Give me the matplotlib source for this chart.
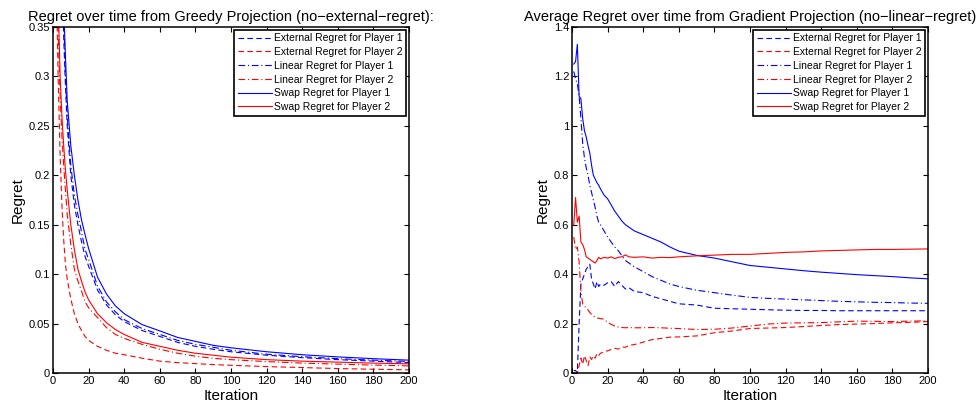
import matplotlib
matplotlib.use("Agg")
import matplotlib.pyplot as plt

plt.rcParams['font.family'] = ['Liberation Sans', 'DejaVu Sans']

# ---------------- Left chart: Greedy Projection ----------------
iter_left = [1, 2, 3, 4, 5, 6, 7, 8, 10, 12, 14, 16, 18, 20, 25, 30, 35, 40,
             50, 60, 70, 80, 90, 100, 120, 140, 160, 180, 200]
ext_p1_left = [2.2, 1.1, 0.74, 0.55, 0.42, 0.34, 0.29, 0.25, 0.2, 0.17, 0.15, 0.133,
               0.118, 0.108, 0.084, 0.069, 0.059, 0.052, 0.043, 0.037, 0.031, 0.027,
               0.024, 0.0215, 0.018, 0.0155, 0.0135, 0.012, 0.0105]
ext_p2_left = [0.5, 0.38, 0.29, 0.22, 0.17, 0.135, 0.11, 0.095, 0.075, 0.06, 0.05,
               0.043, 0.037, 0.033, 0.027, 0.023, 0.02, 0.0185, 0.015, 0.012, 0.0105,
               0.0095, 0.0085, 0.0078, 0.0065, 0.0055, 0.0045, 0.0038, 0.0032]
lin_p1_left = [2.3, 1.15, 0.77, 0.58, 0.45, 0.36, 0.3, 0.26, 0.21, 0.18, 0.16, 0.143,
               0.125, 0.115, 0.088, 0.072, 0.062, 0.054, 0.045, 0.039, 0.033, 0.029,
               0.026, 0.023, 0.019, 0.0165, 0.0145, 0.013, 0.0117]
lin_p2_left = [0.9, 0.45, 0.34, 0.28, 0.24, 0.21, 0.185, 0.16, 0.13, 0.105, 0.093,
               0.083, 0.072, 0.066, 0.056, 0.046, 0.039, 0.035, 0.029, 0.024, 0.02,
               0.017, 0.0148, 0.0135, 0.0115, 0.01, 0.009, 0.008, 0.0072]
swap_p1_left = [2.5, 1.25, 0.85, 0.63, 0.5, 0.37, 0.32, 0.275, 0.23, 0.2, 0.175,
                0.155, 0.14, 0.126, 0.097, 0.08, 0.068, 0.06, 0.049, 0.0426, 0.036,
                0.032, 0.028, 0.0255, 0.0215, 0.0185, 0.0163, 0.0145, 0.013]
swap_p2_left = [1.0, 0.5, 0.37, 0.3, 0.26, 0.23, 0.205, 0.185, 0.15, 0.125, 0.105,
                0.093, 0.082, 0.074, 0.06, 0.051, 0.044, 0.039, 0.031, 0.027, 0.023,
                0.02, 0.018, 0.016, 0.0135, 0.012, 0.011, 0.01, 0.0093]

# ---------------- Right chart: Gradient Projection ----------------
iter_right = [1, 2, 3, 4, 5, 6, 7, 8, 9, 10, 11, 12, 13, 14, 15, 16, 18, 20, 22,
              24, 26, 28, 30, 32, 35, 40, 45, 50, 55, 60, 70, 80, 90, 100, 110,
              120, 130, 140, 150, 160, 170, 180, 190, 200]
ext_p1_right = [0.01, 0.01, 0.0, 0.2, 0.36, 0.38, 0.4, 0.42, 0.43, 0.44, 0.38, 0.36,
                0.34, 0.37, 0.35, 0.36, 0.355, 0.365, 0.37, 0.35, 0.37, 0.355, 0.34,
                0.345, 0.33, 0.325, 0.31, 0.3, 0.29, 0.28, 0.275, 0.262, 0.26, 0.258,
                0.256, 0.254, 0.253, 0.253, 0.252, 0.252, 0.252, 0.252, 0.252, 0.252]
ext_p2_right = [0.0, 0.0, 0.0, 0.03, 0.06, 0.035, 0.07, 0.05, 0.03, 0.065, 0.055,
                0.07, 0.06, 0.078, 0.07, 0.08, 0.085, 0.09, 0.095, 0.1, 0.097, 0.105,
                0.104, 0.112, 0.115, 0.125, 0.135, 0.14, 0.145, 0.146, 0.15, 0.163,
                0.17, 0.18, 0.182, 0.184, 0.188, 0.192, 0.196, 0.198, 0.2, 0.203,
                0.205, 0.208]
lin_p1_right = [1.22, 1.19, 1.17, 1.12, 1.03, 0.93, 0.87, 0.83, 0.8, 0.76, 0.73,
                0.7, 0.67, 0.635, 0.61, 0.6, 0.575, 0.55, 0.53, 0.51, 0.495, 0.475,
                0.455, 0.445, 0.43, 0.41, 0.39, 0.375, 0.36, 0.35, 0.335, 0.325,
                0.315, 0.306, 0.302, 0.299, 0.296, 0.293, 0.29, 0.288, 0.286, 0.285,
                0.283, 0.282]
lin_p2_right = [0.55, 0.5, 0.51, 0.45, 0.33, 0.28, 0.27, 0.265, 0.255, 0.245, 0.237,
                0.23, 0.226, 0.222, 0.222, 0.22, 0.218, 0.205, 0.197, 0.19, 0.186,
                0.184, 0.183, 0.184, 0.183, 0.183, 0.184, 0.183, 0.181, 0.18, 0.176,
                0.177, 0.182, 0.19, 0.198, 0.202, 0.203, 0.204, 0.207, 0.21, 0.209,
                0.208, 0.21, 0.211]
swap_p1_right = [1.25, 1.26, 1.33, 1.12, 1.11, 1.03, 0.98, 0.955, 0.92, 0.89, 0.84,
                 0.8, 0.785, 0.77, 0.76, 0.745, 0.72, 0.705, 0.68, 0.655, 0.635,
                 0.615, 0.6, 0.59, 0.575, 0.56, 0.545, 0.53, 0.51, 0.493, 0.476,
                 0.465, 0.45, 0.435, 0.428, 0.421, 0.414, 0.408, 0.403, 0.398, 0.394,
                 0.39, 0.385, 0.381]
swap_p2_right = [0.6, 0.71, 0.61, 0.635, 0.53, 0.52, 0.5, 0.47, 0.465, 0.46, 0.455,
                 0.45, 0.445, 0.455, 0.468, 0.462, 0.468, 0.465, 0.47, 0.463, 0.468,
                 0.47, 0.478, 0.47, 0.468, 0.47, 0.465, 0.468, 0.467, 0.47, 0.474,
                 0.477, 0.48, 0.48, 0.484, 0.488, 0.49, 0.494, 0.496, 0.498, 0.5, 0.5,
                 0.501, 0.502]

labels = ["External Regret for Player 1", "External Regret for Player 2",
          "Linear Regret for Player 1", "Linear Regret for Player 2",
          "Swap Regret for Player 1", "Swap Regret for Player 2"]

BLUE = "#0000ff"
RED = "#ff0000"
DASH = (0, (5, 3))
DASHDOT = (0, (6, 2.5, 1, 2.5))
styles = [(BLUE, DASH), (RED, DASH), (BLUE, DASHDOT), (RED, DASHDOT),
          (BLUE, "-"), (RED, "-")]

fig = plt.figure(figsize=(9.78, 4.07), dpi=100)
ax1 = fig.add_axes([53 / 978, 34 / 407, 356 / 978, 346 / 407])
ax2 = fig.add_axes([572 / 978, 34 / 407, 356 / 978, 346 / 407])


def draw(ax, x, series, ylim, yticks, yticklabels, title):
    for (c, ls), s, lab in zip(styles, series, labels):
        ax.plot(x, s, color=c, linestyle=ls, linewidth=0.8, label=lab)
    ax.set_xlim(0, 200)
    ax.set_ylim(*ylim)
    ax.set_xticks(range(0, 201, 20))
    ax.set_yticks(yticks)
    ax.set_yticklabels(yticklabels)
    ax.tick_params(direction="in", top=True, right=True, labelsize=8,
                   length=3.5, width=0.8, pad=2)
    for sp in ax.spines.values():
        sp.set_linewidth(1.1)
    ax.set_xlabel("Iteration", fontsize=11, labelpad=2.5)
    ax.set_ylabel("Regret", fontsize=11, labelpad=3)
    ax.set_title(title, fontsize=10.5, pad=4)
    leg = ax.legend(loc="upper right", fontsize=7.5, frameon=True, fancybox=False,
                    borderpad=0.35, labelspacing=0.36, handlelength=3.3,
                    handletextpad=0.2, borderaxespad=0.25)
    leg.get_frame().set_edgecolor("black")
    leg.get_frame().set_linewidth(1.2)
    leg.get_frame().set_alpha(1)


draw(ax1, iter_left,
     [ext_p1_left, ext_p2_left, lin_p1_left, lin_p2_left, swap_p1_left, swap_p2_left],
     (0, 0.35), [0, 0.05, 0.1, 0.15, 0.2, 0.25, 0.3, 0.35],
     ["0", "0.05", "0.1", "0.15", "0.2", "0.25", "0.3", "0.35"],
     "Regret over time from Greedy Projection (no\u2212external\u2212regret):")
draw(ax2, iter_right,
     [ext_p1_right, ext_p2_right, lin_p1_right, lin_p2_right, swap_p1_right, swap_p2_right],
     (0, 1.4), [0, 0.2, 0.4, 0.6, 0.8, 1.0, 1.2, 1.4],
     ["0", "0.2", "0.4", "0.6", "0.8", "1", "1.2", "1.4"],
     "Average Regret over time from Gradient Projection (no\u2212linear\u2212regret)")

fig.savefig("out.png", dpi=100)
